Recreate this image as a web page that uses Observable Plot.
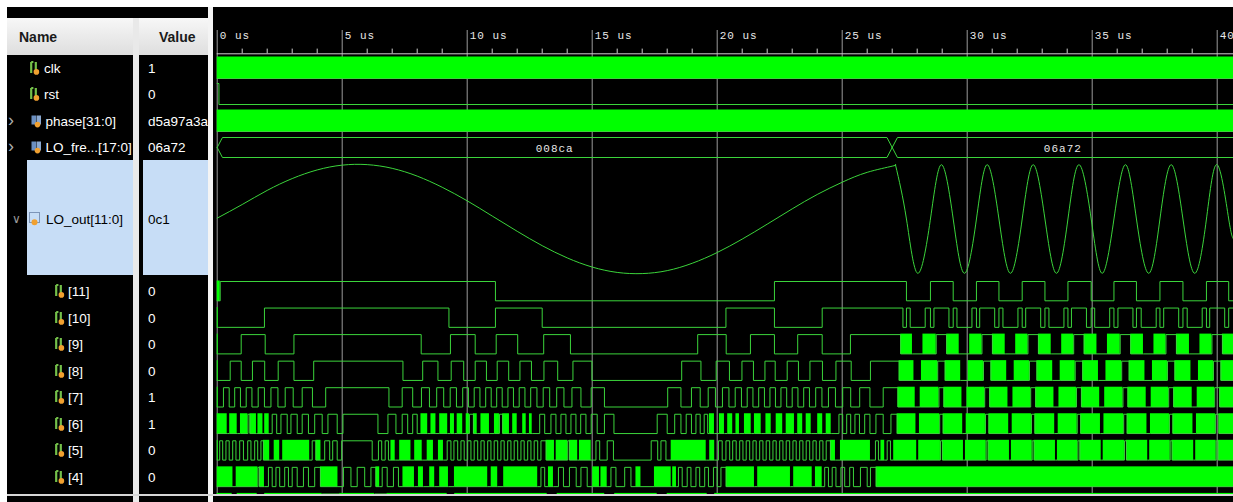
<!DOCTYPE html>
<html>
<head>
<meta charset="utf-8">
<script src="https://cdn.jsdelivr.net/npm/d3@7"></script>
<script src="https://cdn.jsdelivr.net/npm/@observablehq/plot@0.6"></script>
<style>
html, body { margin:0; padding:0; background:#fff; }
#view { position:relative; width:1233px; height:502px; overflow:hidden; background:#fff; font-family:"Liberation Sans", Arial, sans-serif; }
.blk { position:absolute; }
.lbl { position:absolute; white-space:nowrap; font-size:13.5px; line-height:17px; color:#fff; transform:translateY(-50%); }
.ico { position:absolute; transform:translateY(-50%); line-height:0; }
#wave { position:absolute; left:213px; top:7px; width:1020px; height:488px; overflow:hidden; background:#000; }
</style>
</head>
<body>
<div id="view"></div>
<script>
// ---------------- signals shown in the waveform window ----------------
const signalNames  = ["clk", "rst", "phase[31:0]", "LO_fre...[17:0]", "LO_out[11:0]",
                      "[11]", "[10]", "[9]", "[8]", "[7]", "[6]", "[5]", "[4]"];
const signalValues = ["1", "0", "d5a97a3a", "06a72", "0c1",
                      "0", "0", "0", "0", "1", "1", "0", "0"];

// time axis (microseconds)
const timeTicks  = [0, 5, 10, 15, 20, 25, 30, 35, 40];
const timeLabels = ["0 us", "5 us", "10 us", "15 us", "20 us", "25 us", "30 us", "35 us", "40 us"];

// LO_fre bus: change times and hex values
const busChanges = [0, 27.0];
const busLabels  = ["008ca", "06a72"];

// digital traces: [time, state]; state 0 = low, 1 = high, 2 = toggling every clock
const clkTrace   = [[0, 2]];
const rstTrace   = [[0, 1], [0.07, 0]];
const phaseTrace = [[0, 2]];

// LO_out analog view (unsigned 12-bit)
const loSlowTimes  = [0, 1, 2, 3, 4, 5, 6, 7, 8, 9, 10, 11, 12, 13, 14, 15, 16, 17, 18, 19, 20, 21, 22, 23, 24, 25, 26, 27, 27.13];
const loSlowValues = [2080, 2590, 3118, 3561, 3884, 4064, 4083, 3944, 3653, 3235, 2728, 2159, 1587, 1049, 592, 249, 48, 4, 115, 390, 793, 1295, 1854, 2427, 2965, 3424, 3794, 4025, 4080];
const loFastTimes  = [27.13, 27.57, 28.02, 28.53, 28.97, 29.44, 29.89, 30.37, 30.80, 31.27, 31.73, 32.20, 32.64, 33.11, 33.57, 34.03, 34.47, 34.96, 35.40, 35.87, 36.33, 36.77, 37.26, 37.71, 38.16, 38.63, 39.10, 39.57, 40.00, 40.46, 40.65];
const loFastValues = [4080, 2048, 15, 2048, 4080, 2048, 15, 2048, 4080, 2048, 15, 2048, 4080, 2048, 15, 2048, 4080, 2048, 15, 2048, 4080, 2048, 15, 2048, 4080, 2048, 15, 2048, 4080, 2048, 1300];

// LO_out bits
const bit11 = [[0,2],[0.12,1],[11.13,0],[22.29,1],[27.57,0],[28.53,1],[29.44,0],[30.37,1],[31.27,0],[32.2,1],[33.11,0],[34.03,1],[34.96,0],[35.87,1],[36.77,0],[37.71,1],[38.63,0],[39.57,1],[40.46,0]];
const bit10 = [[0,2],[0.04,0],[1.89,1],[9.27,0],[11.13,1],[13.0,0],[20.35,1],[22.29,0],[24.2,1],[27.43,0],[27.57,1],[27.72,0],[28.32,1],[28.53,0],[28.67,1],[29.27,0],[29.44,1],[29.59,0],[30.19,1],[30.37,0],[30.5,1],[31.1,0],[31.27,1],[31.43,0],[32.03,1],[32.2,0],[32.34,1],[32.94,0],[33.11,1],[33.27,0],[33.87,1],[34.03,0],[34.17,1],[34.77,0],[34.96,1],[35.1,0],[35.7,1],[35.87,0],[36.03,1],[36.63,0],[36.77,1],[36.96,0],[37.56,1],[37.71,0],[37.86,1],[38.46,0],[38.63,1],[38.8,0],[39.4,1],[39.57,0],[39.7,1],[40.3,0],[40.46,1]];
const bit9 = [[0,2],[0.04,0],[0.96,1],[1.92,0],[3.07,1],[8.16,0],[9.33,1],[10.32,0],[11.16,1],[12.02,0],[13.06,1],[14.13,0],[19.22,1],[20.36,0],[21.33,1],[22.29,0],[23.22,1],[24.2,0],[25.33,1],[27.34,2],[27.81,0],[28.23,2],[28.76,1],[29.18,2],[29.68,0],[30.1,2],[30.59,1],[31.01,2],[31.52,0],[31.94,2],[32.43,1],[32.85,2],[33.36,0],[33.78,2],[34.26,1],[34.68,2],[35.19,0],[35.61,2],[36.12,1],[36.54,2],[37.05,0],[37.47,2],[37.95,1],[38.37,2],[38.89,0],[39.31,2],[39.79,1],[40.21,2]];
const bit8 = [[0,2],[0.04,0],[0.52,1],[0.96,0],[1.41,1],[1.9,0],[2.44,1],[3.07,0],[3.86,1],[7.43,0],[8.22,1],[8.83,0],[9.36,1],[9.86,0],[10.32,1],[10.77,0],[11.2,1],[11.66,0],[12.11,1],[12.57,0],[13.07,1],[13.62,0],[14.23,1],[14.99,0],[18.58,1],[19.35,0],[19.96,1],[20.49,0],[20.99,1],[21.45,0],[21.91,1],[22.32,0],[22.8,1],[23.25,0],[23.71,1],[24.21,0],[24.75,1],[25.36,0],[26.13,1],[27.28,2],[27.87,0],[28.17,2],[28.82,1],[29.12,2],[29.74,0],[30.04,2],[30.65,1],[30.95,2],[31.58,0],[31.88,2],[32.49,1],[32.79,2],[33.42,0],[33.72,2],[34.32,1],[34.62,2],[35.25,0],[35.55,2],[36.18,1],[36.48,2],[37.11,0],[37.41,2],[38.01,1],[38.31,2],[38.95,0],[39.25,2],[39.85,1],[40.15,2]];
const bit7 = [[0,2],[0.04,0],[0.25,1],[0.48,0],[0.7,1],[0.93,0],[1.16,1],[1.39,0],[1.64,1],[1.89,0],[2.15,1],[2.43,0],[2.72,1],[3.04,0],[3.4,1],[3.81,0],[4.34,1],[6.87,0],[7.4,1],[7.82,0],[8.17,1],[8.49,0],[8.78,1],[9.06,0],[9.32,1],[9.57,0],[9.82,1],[10.05,0],[10.28,1],[10.51,0],[10.74,1],[10.96,0],[11.18,1],[11.4,0],[11.63,1],[11.85,0],[12.08,1],[12.31,0],[12.54,1],[12.79,0],[13.04,1],[13.3,0],[13.58,1],[13.87,0],[14.19,1],[14.55,0],[14.96,1],[15.49,0],[18.02,1],[18.55,0],[18.97,1],[19.32,0],[19.64,1],[19.93,0],[20.21,1],[20.47,0],[20.72,1],[20.97,0],[21.2,1],[21.43,0],[21.66,1],[21.89,0],[22.11,1],[22.33,0],[22.55,1],[22.78,0],[23.0,1],[23.23,0],[23.46,1],[23.69,0],[23.94,1],[24.19,0],[24.45,1],[24.73,0],[25.02,1],[25.34,0],[25.7,1],[26.11,0],[26.64,1],[27.23,2],[27.92,0],[28.12,2],[28.87,1],[29.07,2],[29.79,0],[29.99,2],[30.7,1],[30.9,2],[31.63,0],[31.83,2],[32.54,1],[32.74,2],[33.47,0],[33.67,2],[34.37,1],[34.57,2],[35.3,0],[35.5,2],[36.23,1],[36.43,2],[37.16,0],[37.36,2],[38.06,1],[38.26,2],[39.0,0],[39.2,2],[39.9,1],[40.1,2]];
const bit6 = [[0,2],[0.4,0],[0.5,2],[0.8,0],[0.93,2],[1.23,1],[1.31,2],[1.57,0],[1.63,2],[1.83,0],[1.9,2],[2.08,0],[2.2,1],[2.38,0],[2.55,1],[2.8,0],[2.95,1],[3.2,0],[3.4,1],[3.65,0],[3.9,1],[4.2,0],[4.43,1],[4.8,0],[5.03,1],[6.43,0],[6.83,1],[7.15,0],[7.4,1],[7.62,0],[7.82,1],[8.0,0],[8.15,2],[8.42,0],[8.55,2],[8.75,0],[8.9,2],[9.22,0],[9.33,2],[9.49,0],[9.6,2],[9.82,0],[9.96,2],[10.09,1],[10.25,2],[10.4,0],[10.55,2],[10.89,0],[11.09,2],[11.29,1],[11.42,2],[11.69,0],[11.82,2],[12.0,0],[12.22,2],[12.36,0],[12.49,2],[12.6,0],[12.9,1],[13.1,0],[13.35,1],[13.55,0],[13.75,1],[13.95,0],[14.15,1],[14.35,0],[14.54,1],[14.75,0],[14.96,1],[15.2,0],[15.49,1],[15.87,0],[17.6,1],[18.0,0],[18.3,1],[18.55,0],[18.76,1],[18.97,0],[19.15,1],[19.32,0],[19.48,1],[19.62,0],[19.69,2],[19.89,0],[20.09,2],[20.29,0],[20.42,2],[20.62,0],[20.75,2],[20.89,0],[21.09,2],[21.36,0],[21.49,2],[21.76,0],[21.95,2],[22.16,0],[22.36,2],[22.62,0],[22.76,2],[23.09,0],[23.22,2],[23.42,0],[23.56,2],[23.76,0],[24.02,2],[24.22,0],[24.36,2],[24.56,0],[24.87,1],[25.02,0],[25.18,1],[25.34,0],[25.51,1],[25.69,0],[25.9,1],[26.11,0],[26.35,1],[26.64,0],[26.95,1],[27.2,2],[27.95,0],[28.09,2],[28.9,1],[29.04,2],[29.82,0],[29.96,2],[30.73,1],[30.87,2],[31.66,0],[31.8,2],[32.57,1],[32.71,2],[33.5,0],[33.64,2],[34.4,1],[34.54,2],[35.33,0],[35.47,2],[36.26,1],[36.4,2],[37.19,0],[37.33,2],[38.09,1],[38.23,2],[39.03,0],[39.17,2],[39.93,1],[40.07,2]];
const bit5 = [[0,2],[0.04,0],[0.1,1],[0.22,0],[0.35,1],[0.48,0],[0.62,1],[0.75,0],[0.9,1],[1.05,0],[1.22,1],[1.35,0],[1.5,1],[1.62,0],[1.75,1],[1.85,2],[2.1,0],[2.28,2],[2.5,0],[2.62,2],[3.7,0],[3.8,1],[3.95,2],[4.15,0],[4.3,1],[4.5,0],[4.62,1],[4.8,0],[4.98,1],[6.2,0],[6.45,1],[6.58,0],[6.72,1],[6.85,0],[6.95,2],[7.12,0],[7.3,2],[7.75,0],[7.9,2],[8.2,0],[8.4,2],[8.65,0],[8.85,2],[9.05,0],[9.2,1],[9.35,0],[9.47,1],[9.62,0],[9.75,1],[9.88,0],[10.02,1],[10.15,0],[10.28,1],[10.42,0],[10.55,1],[10.68,0],[10.82,1],[10.95,0],[11.08,1],[11.22,0],[11.35,1],[11.48,0],[11.62,1],[11.75,0],[11.88,1],[12.02,0],[12.15,1],[12.28,0],[12.42,1],[12.55,0],[12.68,1],[12.82,0],[12.95,1],[13.16,2],[13.49,0],[13.56,2],[14.02,1],[14.09,2],[14.42,0],[14.49,2],[14.96,0],[15.15,1],[15.3,0],[15.6,1],[15.85,0],[17.36,1],[17.62,0],[17.75,1],[17.95,0],[18.16,2],[19.56,0],[19.7,2],[19.9,0],[20.05,1],[20.2,0],[20.35,1],[20.5,0],[20.62,1],[20.76,0],[20.9,1],[21.03,0],[21.16,1],[21.3,0],[21.43,1],[21.56,0],[21.7,1],[21.83,0],[21.96,1],[22.1,0],[22.23,1],[22.36,0],[22.5,1],[22.63,0],[22.76,1],[22.9,0],[23.03,1],[23.16,0],[23.3,1],[23.43,0],[23.56,1],[23.7,0],[23.83,1],[23.96,0],[24.1,1],[24.23,0],[24.36,1],[24.53,2],[24.73,0],[24.93,2],[26.13,0],[26.33,1],[26.45,0],[26.55,2],[26.7,0],[26.8,1],[26.93,0],[27.06,2],[27.98,0],[28.06,2],[28.93,1],[29.01,2],[29.85,0],[29.93,2],[30.76,1],[30.84,2],[31.69,0],[31.77,2],[32.6,1],[32.68,2],[33.53,0],[33.61,2],[34.43,1],[34.51,2],[35.36,0],[35.44,2],[36.29,1],[36.37,2],[37.22,0],[37.3,2],[38.12,1],[38.2,2],[39.06,0],[39.14,2],[39.96,1],[40.04,2]];
const bit4 = [[0,2],[0.63,0],[0.76,2],[1.63,1],[1.69,2],[1.89,0],[2.05,1],[2.2,0],[2.35,1],[2.5,0],[2.7,1],[2.85,0],[3.0,1],[3.2,0],[3.45,1],[3.65,0],[3.9,1],[4.13,2],[4.83,0],[5.05,1],[5.35,0],[5.6,1],[5.9,0],[6.15,1],[6.35,2],[6.5,0],[6.6,1],[6.8,0],[7.05,1],[7.25,0],[7.43,2],[7.89,0],[8.05,2],[8.25,0],[8.5,2],[8.7,0],[8.9,2],[9.25,0],[9.49,2],[10.82,0],[10.96,2],[11.22,0],[11.46,2],[12.82,0],[12.95,1],[13.1,0],[13.25,2],[13.45,0],[13.65,1],[13.85,0],[14.09,1],[14.36,0],[14.55,1],[14.8,0],[15.02,2],[15.29,0],[15.35,2],[15.6,0],[15.75,1],[15.95,0],[16.3,1],[16.55,0],[16.75,2],[16.95,0],[17.49,2],[18.16,0],[18.22,2],[18.37,0],[18.45,1],[18.6,0],[18.8,1],[18.95,0],[19.15,1],[19.3,0],[19.5,1],[19.65,0],[19.85,1],[20.0,0],[20.15,1],[20.36,2],[21.49,0],[21.62,2],[22.93,0],[23.06,2],[23.8,0],[23.93,2],[24.2,0],[24.3,1],[24.45,0],[24.6,1],[24.75,0],[24.95,1],[25.1,0],[25.3,1],[25.45,0],[25.73,1],[26.0,0],[26.13,1],[26.36,2]];
const bit3 = [[0,2],[0.6,0],[0.8,2],[1.6,0],[1.9,2],[4.2,1],[4.9,2],[6.3,1],[6.8,2],[9.2,0],[9.5,2],[13.2,0],[13.6,2],[15.5,0],[15.9,2],[17.6,0],[18.0,2],[19.6,0],[19.9,2]];

// ---------------- drawing ----------------
const END = 40.652;           // right edge of the visible time window
const BUSY = 2;
const GREEN = "#00ff00";
const LINE = "#3bd43b";

// vertical layout of the wave rows, in window pixels
const digitalRows = [
  {trace: clkTrace,   hi: 57,  lo: 78},
  {trace: rstTrace,   hi: 83,  lo: 104},
  {trace: phaseTrace, hi: 110, lo: 131}
];
[bit11, bit10, bit9, bit8, bit7, bit6, bit5, bit4, bit3].forEach((trace, i) => {
  const hi = 281 + 26.55 * i;
  digitalRows.push({trace, hi, lo: hi + 19.3});
});

const fills = [], steps = [];
digitalRows.forEach((row, r) => {
  row.trace.forEach(([t, s], k) => {
    const next = k + 1 < row.trace.length ? row.trace[k + 1][0] : END;
    if (s === BUSY) fills.push({x1: t, x2: next, y1: row.hi - 0.5, y2: row.lo + 0.5});
    steps.push({r, t, y: s === 1 ? row.hi : row.lo});
  });
  const last = row.trace[row.trace.length - 1][1];
  steps.push({r, t: END, y: last === 1 ? row.hi : row.lo});
});

// bus outline with slanted value changes
const BUS_HI = 137, BUS_LO = 157, BUS_MID = 147, SLANT = 0.21;
const busLines = [], busText = [];
busChanges.forEach((a, k) => {
  const b = k + 1 < busChanges.length ? busChanges[k + 1] : null;
  [BUS_HI, BUS_LO].forEach((edge, side) => {
    const pts = [{t: a, y: BUS_MID}, {t: a + SLANT, y: edge}];
    if (b === null) pts.push({t: END, y: edge});
    else pts.push({t: b - SLANT, y: edge}, {t: b, y: BUS_MID});
    pts.forEach(p => busLines.push({...p, g: k * 2 + side}));
  });
  busText.push({t: (a + (b === null ? END : b)) / 2, label: busLabels[k]});
});

// analog LO_out row
const LO_TOP = 163.8, LO_BOT = 273.2;
const loY = v => LO_BOT - v / 4095 * (LO_BOT - LO_TOP);
const loSlow = loSlowTimes.map((t, i) => ({t, y: loY(loSlowValues[i])}));
const loFast = loFastTimes.map((t, i) => ({t, y: loY(loFastValues[i])}));

const minorTicks = d3.range(1, 41).filter(t => t % 5 !== 0);

const wave = Plot.plot({
  width: 1020, height: 488,
  marginLeft: 3.7, marginRight: 0, marginTop: 0, marginBottom: 0,
  style: {background: "#000", overflow: "hidden"},
  x: {domain: [0, END], axis: null},
  y: {domain: [7, 495], range: [0, 488], axis: null},
  marks: [
    Plot.ruleX(timeTicks, {x: d => d, y1: 30, y2: 495, stroke: "#9a9a9a", strokeWidth: 1}),
    Plot.ruleY([53.3], {x1: 0, x2: END, stroke: "#cfcfcf"}),
    Plot.ruleX(minorTicks, {x: d => d, y1: 48.6, y2: 53.3, stroke: "#cfcfcf"}),
    Plot.text(timeTicks, {x: d => d, y: () => 34.5, text: (d, i) => timeLabels[i], textAnchor: "start", dx: 2.5,
      fill: "#e8e8e8", fontFamily: "Liberation Mono", fontSize: 11}),
    Plot.rect(fills, {x1: "x1", x2: "x2", y1: "y1", y2: "y2", fill: GREEN}),
    Plot.line(steps, {x: "t", y: "y", z: "r", curve: "step-after", stroke: LINE, strokeWidth: 1}),
    Plot.line(busLines, {x: "t", y: "y", z: "g", stroke: LINE, strokeWidth: 1}),
    Plot.text(busText, {x: "t", y: () => 147.5, text: "label", fill: "#e8e8e8", fontFamily: "Liberation Mono", fontSize: 11}),
    Plot.line(loSlow, {x: "t", y: "y", curve: "natural", stroke: LINE, strokeWidth: 1}),
    Plot.line(loFast, {x: "t", y: "y", curve: "natural", stroke: LINE, strokeWidth: 1})
  ]
});
wave.querySelectorAll('g[font-family="Liberation Mono"] text').forEach(t => t.style.letterSpacing = "1px");

// ---------------- name / value panels ----------------
const view = document.getElementById("view");
function box(l, t, w, h, bg) {
  const d = document.createElement("div");
  d.className = "blk";
  Object.assign(d.style, {left: l + "px", top: t + "px", width: w + "px", height: h + "px", background: bg});
  view.appendChild(d);
  return d;
}
function label(text, l, cy, color, extra) {
  const s = document.createElement("div");
  s.className = "lbl";
  s.textContent = text;
  Object.assign(s.style, {left: l + "px", top: cy + "px", color}, extra || {});
  view.appendChild(s);
  return s;
}
function icon(svg, l, cy) {
  const d = document.createElement("div");
  d.className = "ico";
  d.innerHTML = svg;
  Object.assign(d.style, {left: l + "px", top: cy + "px"});
  view.appendChild(d);
}

box(7, 7, 201, 495, "#000");
box(7, 18, 126, 37, "linear-gradient(#f7f7f7, #dedede)");
box(139, 18, 69, 37, "linear-gradient(#f7f7f7, #dedede)");
box(27, 160, 106, 115, "#c7ddf6");
box(143, 160, 65, 115, "#c7ddf6");
label("Name", 19, 37, "#1a1a1a", {fontWeight: "bold", fontSize: "14px"});
label("Value", 159, 37, "#1a1a1a", {fontWeight: "bold", fontSize: "14px"});

const bitIcon = '<svg width="10" height="15" viewBox="0 0 10 15"><path d="M1.2 1.5v11M5.8 1.5v11M1.2 1.5h2.2" stroke="#74c04a" stroke-width="2.2" fill="none"/><circle cx="6.4" cy="11.4" r="2.8" fill="#f0a030"/></svg>';
const busIcon = '<svg width="11" height="14" viewBox="0 0 11 14"><rect x="0.5" y="1.5" width="4.5" height="9" fill="#6b8fc0"/><rect x="5.5" y="1.5" width="4.5" height="9" fill="#8aa8d0"/><circle cx="6.5" cy="10.6" r="2.8" fill="#f0a030"/></svg>';
const loIcon = '<svg width="12" height="14" viewBox="0 0 12 14"><rect x="0.5" y="0.5" width="10" height="10" fill="none" stroke="#7d95b8"/><circle cx="5.5" cy="10.2" r="3" fill="#f0a030"/></svg>';

const rowCenters = [67.5, 94, 120.5, 147, 219];
for (let j = 0; j < 8; j++) rowCenters.push(291 + 26.55 * j);

signalNames.forEach((name, i) => {
  const cy = rowCenters[i];
  if (i < 2) {
    icon(bitIcon, 30, cy);
    label(name, 44, cy, "#fff");
  } else if (i < 4) {
    label("\u203a", 8, cy - 1, "#aaa", {fontSize: "18px"});
    icon(busIcon, 31, cy);
    label(name, 45.5, cy, "#fff");
  } else if (i === 4) {
    label("\u2228", 12, cy, "#999", {fontSize: "12px"});
    icon(loIcon, 29, cy);
    label(name, 46, cy, "#000");
  } else {
    icon(bitIcon, 55, cy);
    label(name, 68, cy, "#fff");
  }
  const v = label(signalValues[i], 148, cy, i === 4 ? "#000" : "#fff");
  v.style.maxWidth = "60px";
  v.style.overflow = "hidden";
});

// column separators sit above the labels, as in the window frame
box(133, 18, 6, 484, "#e9e9e9");
box(208, 7, 5, 495, "#f4f4f4");

const waveDiv = document.createElement("div");
waveDiv.id = "wave";
waveDiv.appendChild(wave);
view.appendChild(waveDiv);
box(7, 494, 1226, 2, "#d6d6d6");
box(7, 496, 126, 6, "#000");
box(139, 496, 69, 6, "#000");
box(213, 496, 1020, 6, "#000");
</script>
</body>
</html>
